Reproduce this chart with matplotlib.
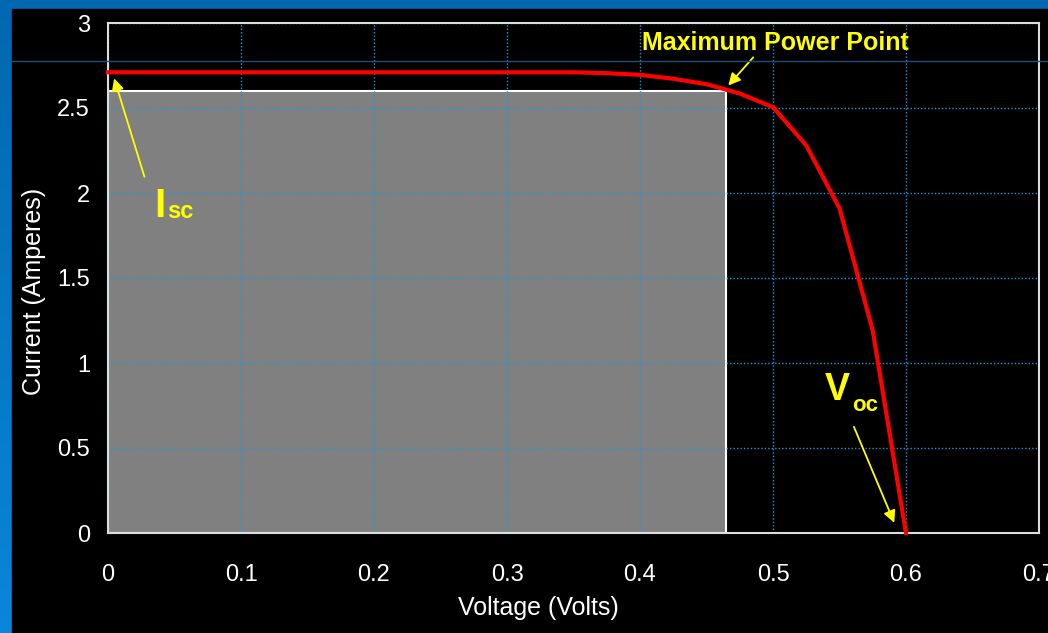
import numpy as np
import matplotlib.pyplot as plt
from matplotlib.patches import Rectangle
from matplotlib.lines import Line2D
from matplotlib.colors import LinearSegmentedColormap

plt.rcParams['font.family'] = ['Liberation Sans Narrow', 'Liberation Sans', 'DejaVu Sans']

# I-V curve
voltage = [0.0, 0.05, 0.1, 0.15, 0.2, 0.25, 0.3, 0.35, 0.375, 0.4, 0.425, 0.45,
           0.475, 0.5, 0.525, 0.55, 0.575, 0.6]
current = [2.71, 2.71, 2.71, 2.71, 2.71, 2.71, 2.71, 2.71, 2.705, 2.695, 2.672, 2.64,
           2.585, 2.505, 2.28, 1.91, 1.19, 0.0]

# maximum power point rectangle
v_mp = 0.465
i_mp = 2.6

x_ticks = [0, 0.1, 0.2, 0.3, 0.4, 0.5, 0.6, 0.7]
x_labels = ["0", "0.1", "0.2", "0.3", "0.4", "0.5", "0.6", "0.7"]
y_ticks = [0, 0.5, 1, 1.5, 2, 2.5, 3]
y_labels = ["0", "0.5", "1", "1.5", "2", "2.5", "3"]

W, H = 1048, 633
fig = plt.figure(figsize=(W / 100, H / 100), dpi=100)

# slide background: blue gradient with a black panel
bg = fig.add_axes([0, 0, 1, 1], zorder=-10)
grad = np.linspace(0, 1, 256).reshape(-1, 1)
bg.imshow(grad, aspect='auto', extent=[0, 1, 0, 1], origin='upper',
          cmap=LinearSegmentedColormap.from_list('b', ['#0068b0', '#0a86da']))
bg.add_patch(Rectangle((12 / W, 0), 1, 1 - 9 / H, color='black'))
bg.set_xlim(0, 1)
bg.set_ylim(0, 1)
bg.axis('off')
fig.add_artist(Line2D([12 / W, 1], [1 - 61 / H, 1 - 61 / H], color='#1d4f7a', lw=1))

ax = fig.add_axes([108 / W, 1 - 533 / H, (1039 - 108) / W, (533 - 23) / H])
ax.set_facecolor('black')
ax.set_xlim(0, 0.7)
ax.set_ylim(0, 3)

ax.add_patch(Rectangle((0, 0), v_mp, i_mp, facecolor='#808080', edgecolor='white',
                       lw=1.5, zorder=1))
ax.set_axisbelow('line')
ax.grid(True, color='#1a9be0', linestyle=(0, (1, 1.5)), lw=1)
ax.plot(voltage, current, color='#ff0000', lw=3, zorder=3, clip_on=False)

ax.set_xticks(x_ticks)
ax.set_xticklabels(x_labels)
ax.set_yticks(y_ticks)
ax.set_yticklabels(y_labels)
ax.tick_params(colors='white', labelsize=17, length=0)
ax.tick_params(axis='x', pad=22)
ax.tick_params(axis='y', pad=13)
for s in ax.spines.values():
    s.set_color('#dddddd')
    s.set_linewidth(1.5)

ax.set_xlabel("Voltage (Volts)", color='white', fontsize=18)
ax.set_ylabel("Current (Amperes)", color='white', fontsize=18)
ax.xaxis.set_label_coords(0.462, -0.123)
ax.yaxis.set_label_coords(-0.067, 0.474)

yel = '#ffff00'
arrow = dict(arrowstyle='-|>', color=yel, lw=1.3, mutation_scale=18)
ax.annotate("", xy=(0.004, 2.69), xytext=(0.028, 2.08), arrowprops=arrow)
ax.annotate("", xy=(0.465, 2.62), xytext=(0.4865, 2.81), arrowprops=arrow)
ax.annotate("", xy=(0.592, 0.045), xytext=(0.560, 0.64), arrowprops=arrow)

ax.text(0.5015, 2.885, "Maximum Power Point", color=yel, fontsize=18,
        fontweight='bold', ha='center', va='center')
ax.text(0.035, 1.86, "I", color=yel, fontsize=29, fontweight='bold', va='baseline')
ax.text(0.0445, 1.85, "sc", color=yel, fontsize=17, fontweight='bold', va='baseline')
ax.text(0.539, 0.78, "V", color=yel, fontsize=27, fontweight='bold', va='baseline')
ax.text(0.5595, 0.72, "oc", color=yel, fontsize=16, fontweight='bold', va='baseline')

fig.savefig("out.png", dpi=100)
